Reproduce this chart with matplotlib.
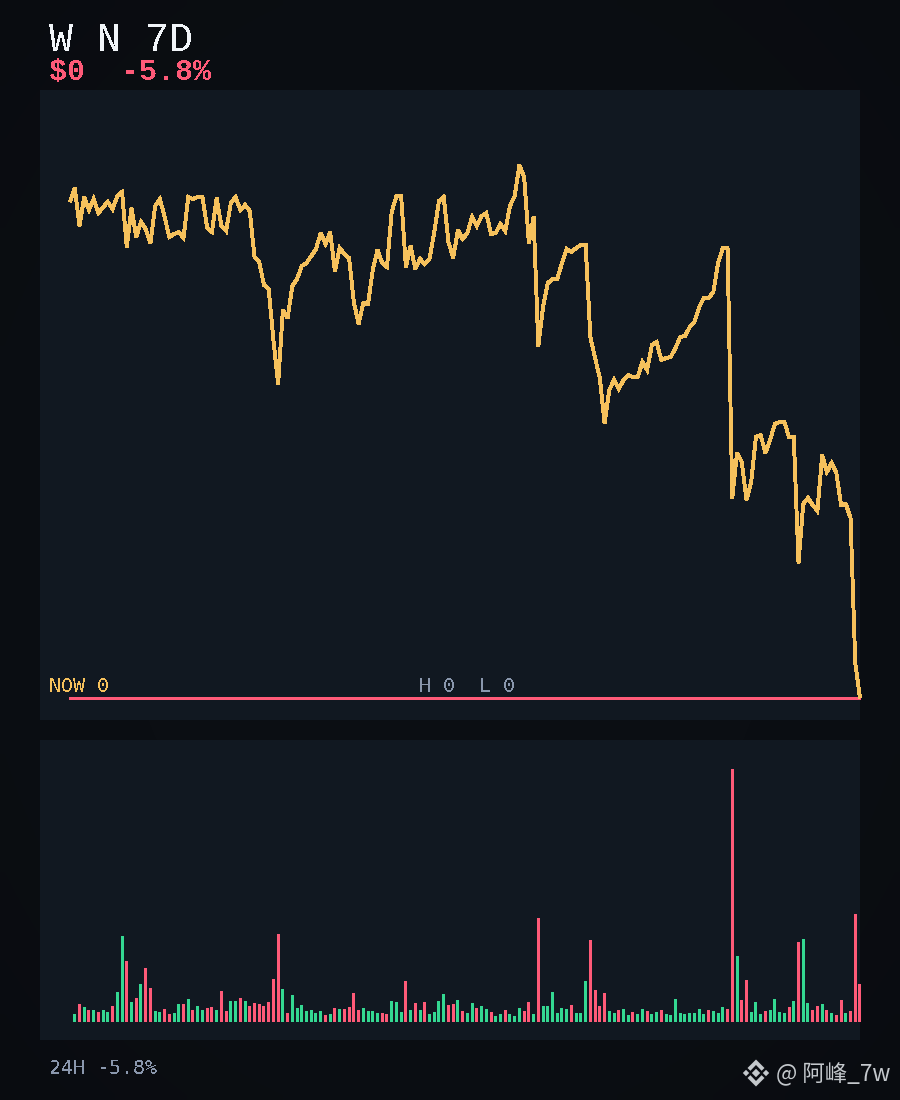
import numpy as np
import matplotlib
matplotlib.use("Agg")
import matplotlib.pyplot as plt
from matplotlib.patches import Polygon

PRICE = [496,510,472,501,488,499,485,491,496,489,
         502,506,451,490,461,476,469,455,492,499,
         481,461,464,466,460,501,499,501,501,470,
         466,500,472,467,495,501,488,493,487,441,
         436,413,409,358,314,388,380,412,419,432,
         435,442,449,465,454,466,427,450,444,440,
         396,374,395,394,428,448,435,431,486,502,
         502,431,452,429,439,434,439,466,497,501,
         456,440,468,459,465,481,472,482,485,464,
         465,474,467,492,502,533,521,455,481,352,
         391,415,419,419,435,449,446,450,453,453,
         361,340,320,275,308,318,309,318,323,321,
         321,336,328,353,356,338,340,341,350,361,
         362,371,376,391,400,400,406,435,450,450,
         200,245,236,198,216,261,263,245,258,274,
         276,276,261,261,135,194,200,193,187,243,
         226,235,225,193,194,180,35,0]

VOLUME = [8,18,15,12,12,10,12,10,16,30,86,61,20,24,38,54,34,11,10,13,
          8,9,18,18,23,12,16,12,14,15,12,31,11,21,21,24,21,16,19,18,
          16,20,43,88,33,9,27,14,17,11,12,9,11,7,8,14,13,13,15,29,
          12,14,11,11,9,9,8,21,20,10,41,12,19,12,20,8,10,21,28,17,
          18,22,11,9,19,14,16,13,10,6,8,12,8,6,14,11,20,8,104,16,
          16,30,9,14,13,17,9,9,41,82,32,16,29,11,9,12,13,7,10,8,
          13,11,8,10,12,8,7,23,9,8,9,9,13,8,12,11,9,15,13,253,
          66,22,42,10,20,8,11,12,23,10,9,15,21,80,83,19,12,16,18,12,
          9,7,22,9,11,108,38]

DIRECTION = ("grgrgrggrg" "grgrgrrggr" "rggrgrggrr" "grrggrgrrr" "rrrrgrgggg"
             "gggrgrgrrr" "rggggrrggg" "rgrgrggggr" "rgrggrggrg" "grgggrrgrg"
             "gggggrgggr" "rrrggrggrg" "grggrggggg" "ggggrgggrr" "grrgggrggg"
             "grgrggrrgr" "grrgrrr")

TITLE = "W N 7D"
PRICE_LABEL = "$0  -5.8%"
NOW_LABEL = "NOW 0"
RANGE_LABEL = "H 0  L 0"
FOOT_LABEL = "24H -5.8%"
MARK_LABEL = "@ 阿峰_7w"

BG = "#0a0d12"
PANEL = "#111821"
AMBER = "#f6c15c"
RED = "#ff5a78"
GREEN = "#34d892"
SLATE = "#8a97ad"
WHITE = "#f1f5f9"

W, H = 900, 1100
plt.rcParams["font.family"] = ["DejaVu Sans Mono", "DejaVu Sans"]
fig = plt.figure(figsize=(W / 100, H / 100), dpi=100, facecolor=BG)


def panel(x0, y0, x1, y1):
    ax = fig.add_axes([x0 / W, 1 - y1 / H, (x1 - x0) / W, (y1 - y0) / H], facecolor=PANEL)
    ax.set_xticks([])
    ax.set_yticks([])
    for s in ax.spines.values():
        s.set_visible(False)
    return ax


# soft vignette behind everything
bg = fig.add_axes([0, 0, 1, 1], zorder=-1)
yy, xx = np.mgrid[0:1:110j, 0:1:90j]
r = np.sqrt(((xx - .5) / .5) ** 2 + ((yy - .5) / .5) ** 2) / np.sqrt(2)
shade = np.clip(1.05 - .18 * r ** 2, 0, 2)
base = np.array([11, 14, 19]) / 255
bg.imshow(np.clip(shade[..., None] * base, 0, 1), aspect="auto", extent=(0, W, H, 0), interpolation="bilinear")
bg.set_xlim(0, W)
bg.set_ylim(H, 0)
bg.axis("off")

step = 790 / 167
n = np.arange(len(PRICE))

ax1 = panel(40, 90, 860, 720)
ax1.set_xlim(-30 / step, 167)
ax1.set_ylim(-22, 608)
ax1.plot([-0.2, 167], [0, 0], color=RED, lw=3 * .72, solid_capstyle="butt", antialiased=False, clip_on=False, zorder=2)
ax1.plot(n, PRICE, color=AMBER, lw=2.9 * .72, antialiased=False, clip_on=False, zorder=3,
         solid_joinstyle="miter", solid_capstyle="butt")

ax2 = panel(40, 740, 860, 1040)
ax2.set_xlim(-30 / step, 167)
ax2.set_ylim(-18, 282)
ax2.bar(n[1:], VOLUME, width=3 / step, color=[GREEN if d == "g" else RED for d in DIRECTION],
        antialiased=False, clip_on=False)


def label(x, y, s, px, color, aa=False, **kw):
    t = fig.text(x / W, 1 - y / H, s, fontsize=px * .72, color=color, va="baseline", ha="left", **kw)
    t.set_antialiased(aa)
    return t


label(49, 51, TITLE, 40, WHITE, family=["Liberation Mono", "DejaVu Sans"])
label(49, 80, PRICE_LABEL, 30, RED, family=["Liberation Mono", "DejaVu Sans"], weight="bold")
label(49, 692, NOW_LABEL, 20, AMBER)
label(419, 692, RANGE_LABEL, 20, SLATE)
label(49, 1074, FOOT_LABEL, 20, SLATE)
label(776, 1081, MARK_LABEL, 22.5, "#c4c8cc", aa=True, family=["Noto Sans CJK SC", "DejaVu Sans"])

# watermark logo
ov = fig.add_axes([0, 0, 1, 1], zorder=5)
ov.set_xlim(0, W)
ov.set_ylim(H, 0)
ov.axis("off")
ov.patch.set_alpha(0)
cx, cy = 756, 1073
logo = "#c4c8cc"
for dx, dy, s in [(0, 0, 4.2), (-10, 0, 3.2), (10, 0, 3.2)]:
    ov.add_patch(Polygon([(cx + dx - s, cy + dy), (cx + dx, cy + dy - s), (cx + dx + s, cy + dy), (cx + dx, cy + dy + s)], color=logo, lw=0))
for sgn in (-1, 1):
    ov.add_patch(Polygon([(cx, cy + sgn * 13.5), (cx + 8.5, cy + sgn * 5), (cx + 5.6, cy + sgn * 2.2), (cx, cy + sgn * 8),
                          (cx - 5.6, cy + sgn * 2.2), (cx - 8.5, cy + sgn * 5)], color=logo, lw=0))

fig.savefig("out.png", dpi=100, facecolor=BG)
